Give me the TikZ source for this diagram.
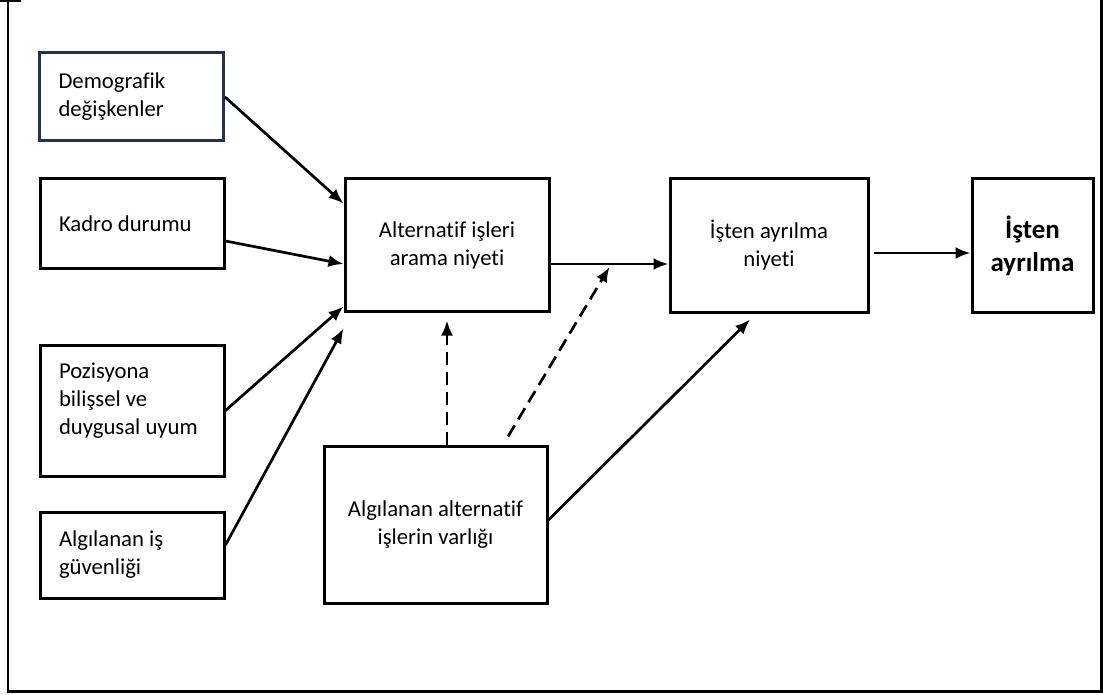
\documentclass[tikz,border=0pt]{standalone}
\usepackage{fontspec}
\setmainfont{Carlito}[RawFeature={-liga}]
\usetikzlibrary{arrows.meta}
\definecolor{demoedge}{HTML}{25324D}
\begin{document}
\begin{tikzpicture}[x=1pt,y=-1pt,
  box/.style={draw=black, line width=3pt, fill=white, inner sep=0pt,
    font=\fontsize{22.7}{28}\selectfont},
  leftbox/.style={box, minimum width=184pt, align=flush left, text width=146pt, inner xsep=19pt},
  midbox/.style={box, align=center},
  link/.style={line width=2.7pt, -{Latex[length=15pt,width=12pt]}},
  hint/.style={link, dash pattern=on 13pt off 7pt}]
\useasboundingbox (0,0) rectangle (1103,695);

% outer frame
\draw[line width=2.6pt] (7.8,0) -- (7.8,691.5) -- (1101.5,691.5) -- (1101.5,0);
\draw[line width=1.8pt] (0,0.9) -- (21,0.9);

% antecedents
\node[leftbox, minimum height=88pt, draw=demoedge] (demo) at (131.5,97) {Demografik\\değişkenler};
\node[leftbox, minimum height=89pt] (kadro) at (132,223.5) {Kadro durumu};
\node[box, minimum width=184pt, minimum height=131pt, inner xsep=19pt] (pozis) at (132,410.5)
  {\raisebox{10pt}[\height][\depth]{\parbox{146pt}{\raggedright Pozisyona\\bilişsel ve\\duygusal uyum}}};
\node[leftbox, minimum height=86pt] (guven) at (132,555) {Algılanan iş\\güvenliği};

% central constructs
\node[midbox, minimum width=204pt, minimum height=132pt] (alt) at (447,245) {Alternatif işleri\\arama niyeti};
\node[midbox, minimum width=223pt, minimum height=157pt] (varlik) at (435.5,524.5) {Algılanan alternatif\\işlerin varlığı};
\node[midbox, minimum width=198pt, minimum height=133pt] (niyet) at (769,245.5) {İşten ayrılma\\niyeti};
\node[midbox, minimum width=121pt, minimum height=133pt, font=\fontsize{27}{33}\selectfont\bfseries] (ayril) at (1032.5,245.5) {İşten\\ayrılma};

% helper points on the main path
\coordinate (altout) at ([yshift=-19pt]alt.east);
\coordinate (niyout) at ([xshift=4pt,yshift=-7.5pt]niyet.east);

% paths into the search intention
\draw[link] (demo.east) -- ([yshift=-26pt]alt.north west);
\draw[link] ([yshift=-17.5pt]kadro.east) -- ([yshift=-19pt]alt.west);
\draw[link] (pozis.east) -- ([yshift=6pt]alt.south west);
\draw[link] ([yshift=10pt]guven.east) -- ([yshift=-16pt]alt.south west);

% main chain
\draw[link] (altout) -- (altout -| niyet.west);
\draw[link] (niyout) -- (niyout -| ayril.west);

% moderating effects
\draw[hint] (alt.south |- varlik.north) -- ([yshift=-8pt]alt.south);
\draw[hint] ([xshift=72.5pt,yshift=8pt]varlik.north) -- ([xshift=59pt,yshift=-3pt]altout);
\draw[link] ([yshift=4.5pt]varlik.east) -- ([xshift=-19pt,yshift=-6pt]niyet.south);
\end{tikzpicture}
\end{document}
